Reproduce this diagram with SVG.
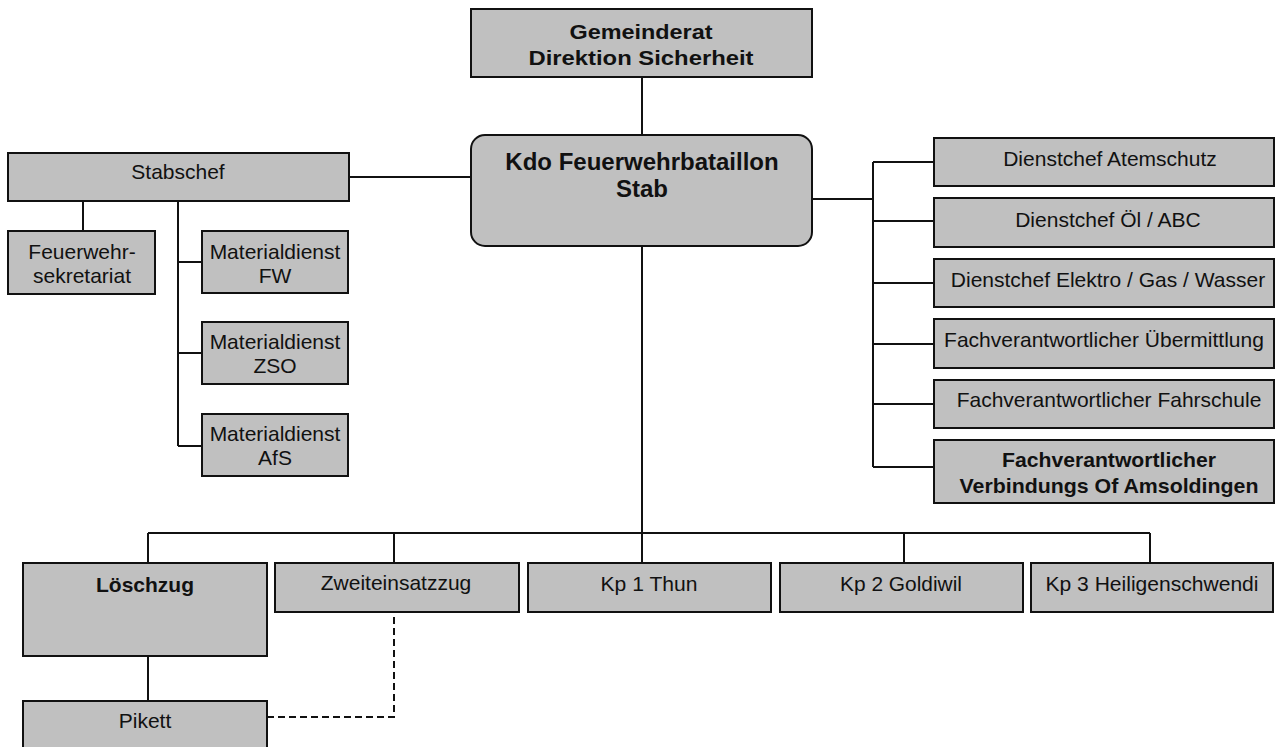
<svg xmlns="http://www.w3.org/2000/svg" width="1279" height="747" viewBox="0 0 1279 747">
<style>
.box{fill:#c0c0c0;stroke:#111;stroke-width:2}
.t{font-family:"Liberation Sans",Arial,sans-serif;font-size:21px;fill:#111;text-anchor:middle}
.b{font-weight:bold}
.ln{fill:none;stroke:#111;stroke-width:2}
.dash{fill:none;stroke:#111;stroke-width:2;stroke-dasharray:7,4}
</style>
<rect width="1279" height="747" fill="#fff"/>
<g id="connectors">
<path class="ln" d="M642,77V135M642,246V533M148,533H1150M148,533V563M394,533V563M642,533V563M904,533V563M1150,533V563M148,656V701"/>
<path class="ln" d="M349,177H471M83,201V231M178,201V446M178,262H202M178,353H202M178,446H202"/>
<path class="ln" d="M812,199H873M873,162V467M873,162H934M873,221H934M873,283H934M873,344H934M873,404H934M873,467H934"/>
<path class="dash" d="M267,717H394V612"/>
</g>
<g id="gemeinderat"><rect class="box" x="471" y="9" width="341" height="68"/>
<text class="t b" x="641" y="39" font-size="20" textLength="143" lengthAdjust="spacingAndGlyphs">Gemeinderat</text>
<text class="t b" x="641" y="65" font-size="20" textLength="225" lengthAdjust="spacingAndGlyphs">Direktion Sicherheit</text></g>
<g id="kdo"><rect class="box" x="471" y="135" width="341" height="111" rx="14"/>
<text class="t b" x="642" y="170" style="font-size:24px">Kdo Feuerwehrbataillon</text>
<text class="t b" x="642" y="197" style="font-size:24px">Stab</text></g>
<g id="stabschef"><rect class="box" x="8" y="153" width="341" height="48"/><text class="t" x="178" y="179">Stabschef</text></g>
<g id="sekretariat"><rect class="box" x="8" y="231" width="147" height="63"/><text class="t" x="82" y="259">Feuerwehr-</text><text class="t" x="82" y="283">sekretariat</text></g>
<g id="mat-fw"><rect class="box" x="202" y="231" width="146" height="62"/><text class="t" x="275" y="259">Materialdienst</text><text class="t" x="275" y="283">FW</text></g>
<g id="mat-zso"><rect class="box" x="202" y="322" width="146" height="62"/><text class="t" x="275" y="349">Materialdienst</text><text class="t" x="275" y="373">ZSO</text></g>
<g id="mat-afs"><rect class="box" x="202" y="414" width="146" height="62"/><text class="t" x="275" y="441">Materialdienst</text><text class="t" x="275" y="465">AfS</text></g>
<g id="atemschutz"><rect class="box" x="934" y="138" width="340" height="48"/><text class="t" x="1110" y="166">Dienstchef Atemschutz</text></g>
<g id="oel"><rect class="box" x="934" y="198" width="340" height="49"/><text class="t" x="1108" y="227">Dienstchef Öl / ABC</text></g>
<g id="elektro"><rect class="box" x="934" y="259" width="340" height="48"/><text class="t" x="1108" y="287">Dienstchef Elektro / Gas / Wasser</text></g>
<g id="uebermittlung"><rect class="box" x="934" y="319" width="340" height="49"/><text class="t" x="1104" y="347">Fachverantwortlicher Übermittlung</text></g>
<g id="fahrschule"><rect class="box" x="934" y="380" width="340" height="48"/><text class="t" x="1109" y="407">Fachverantwortlicher Fahrschule</text></g>
<g id="verbindung"><rect class="box" x="934" y="440" width="340" height="63"/>
<text class="t b" x="1109" y="467" font-size="19" textLength="214" lengthAdjust="spacingAndGlyphs">Fachverantwortlicher</text>
<text class="t b" x="1109" y="493" font-size="19" textLength="299" lengthAdjust="spacingAndGlyphs">Verbindungs Of Amsoldingen</text></g>
<g id="loeschzug"><rect class="box" x="23" y="563" width="244" height="93"/><text class="t b" x="145" y="592">Löschzug</text></g>
<g id="zweiteinsatzzug"><rect class="box" x="275" y="563" width="244" height="49"/><text class="t" x="396" y="590">Zweiteinsatzzug</text></g>
<g id="kp1"><rect class="box" x="528" y="563" width="243" height="49"/><text class="t" x="649" y="591" font-size="24" textLength="97" lengthAdjust="spacingAndGlyphs">Kp 1 Thun</text></g>
<g id="kp2"><rect class="box" x="780" y="563" width="243" height="49"/><text class="t" x="901" y="591" font-size="24" textLength="122" lengthAdjust="spacingAndGlyphs">Kp 2 Goldiwil</text></g>
<g id="kp3"><rect class="box" x="1031" y="563" width="242" height="49"/><text class="t" x="1152" y="591" font-size="24" textLength="213" lengthAdjust="spacingAndGlyphs">Kp 3 Heiligenschwendi</text></g>
<g id="pikett"><rect class="box" x="23" y="701" width="244" height="60"/><text class="t" x="145" y="728">Pikett</text></g>
</svg>
